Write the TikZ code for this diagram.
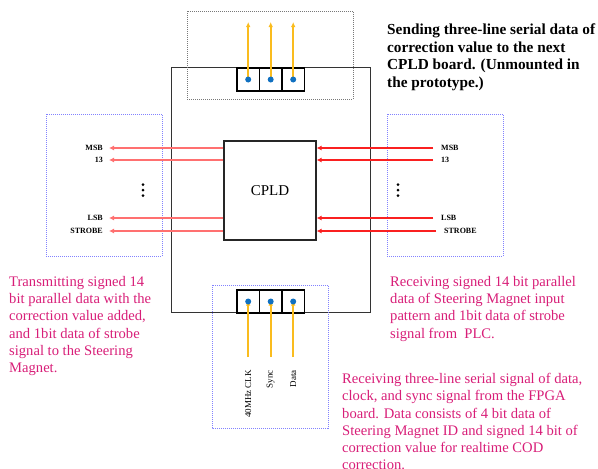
\documentclass[tikz,border=0pt]{standalone}
\usepackage{fontspec}
\setmainfont{Liberation Serif}
\definecolor{notepink}{RGB}{216,30,120}
\definecolor{pinblue}{RGB}{16,112,192}
\definecolor{linegold}{RGB}{250,188,30}
\definecolor{outred}{RGB}{255,112,112}
\definecolor{inred}{RGB}{250,32,32}
\definecolor{framegray}{RGB}{120,120,120}
\definecolor{zoneblue}{RGB}{130,130,255}
\usetikzlibrary{positioning,arrows.meta}

\begin{document}
\begin{tikzpicture}[x=1pt,y=-1pt,
  pinbox/.style={draw,line width=1.4pt,minimum width=22.5pt,minimum height=23pt,inner sep=0pt,outer sep=0pt},
  zone/.style={draw=zoneblue,densely dotted,line width=1pt},
  siglabel/.style={font=\bfseries\fontsize{8}{8}\selectfont,inner sep=0pt},
  pinlabel/.style={rotate=90,anchor=east,inner sep=0pt,font=\fontsize{9}{9}\selectfont},
  note/.style={text=notepink,align=left,anchor=north west,inner sep=0pt,font=\fontsize{14.6}{17.3}\selectfont},
  outsig/.style={outred,line width=1.6pt,-{Latex[length=5pt,width=5pt]}},
  insig/.style={inred,line width=1.6pt,-{Latex[length=5pt,width=5pt]}},
  serial/.style={linegold,line width=1.6pt,-{Latex[length=5pt,width=4.5pt]}}]

  \useasboundingbox (0,0) rectangle (598,469);

  % board and CPLD
  \node[draw=black!80,line width=1pt,minimum width=199pt,minimum height=245pt] (board) at (270.5,189.5) {};
  \node[draw=black!85,line width=1.2pt,minimum width=92pt,minimum height=99pt,font=\fontsize{15}{15}\selectfont] (cpld) at (270,190.5) {CPLD};

  % dotted zones
  \draw[framegray,densely dotted,line width=1pt] (187,11) rectangle (353,99);
  \draw[zone] (46,114) rectangle (162,256);
  \draw[zone] (387,114) rectangle (503,256);
  \draw[zone] (212,285) rectangle (328,428);

  % connectors to the next board
  \node[pinbox] (top1) at (248.2,79.5) {};
  \node[pinbox,right=0pt of top1] (top2) {};
  \node[pinbox,right=0pt of top2] (top3) {};
  \foreach \p in {1,2,3}{
    \coordinate (top\p end) at ([yshift=57.5pt]top\p.center);
    \draw[serial] (top\p.center) -- (top\p end);
    \fill[pinblue] (top\p.center) circle (3pt);
  }

  % connectors from the FPGA
  \node[pinbox] (bot1) at (248.2,301.5) {};
  \node[pinbox,right=0pt of bot1] (bot2) {};
  \node[pinbox,right=0pt of bot2] (bot3) {};
  \node[pinlabel] (clk) at (bot1 |- 0,370) {40MHz CLK};
  \node[pinlabel] (sync) at (bot2 |- 0,370) {Sync};
  \node[pinlabel] (data) at (bot3 |- 0,370) {Data};
  \foreach \p in {1,2,3}{
    \coordinate (bot\p start) at ([yshift=-55.5pt]bot\p.center);
    \draw[serial,shorten >=-1pt] (bot\p start) -- (bot\p.center);
    \fill[pinblue] (bot\p.center) circle (3pt);
  }

  % parallel output to the steering magnet
  \node[siglabel,anchor=east] (lmsb) at (103,148) {MSB};
  \node[siglabel,anchor=east] (l13) at (103,160) {13};
  \node[siglabel,anchor=east] (llsb) at (103,218) {LSB};
  \node[siglabel,anchor=east] (lstb) at (103,231) {STROBE};
  \foreach \l in {lmsb,l13,llsb,lstb}
    \draw[outsig] (cpld.west |- \l) -- ([xshift=6pt]\l.east);
  \foreach \k in {0,1,2}
    \fill (143,184.5+5.5*\k) circle (1.5pt);

  % parallel input from the PLC
  \node[siglabel,anchor=west] (rmsb) at (441,148) {MSB};
  \node[siglabel,anchor=west] (r13) at (441,160) {13};
  \node[siglabel,anchor=west] (rlsb) at (441,218) {LSB};
  \node[siglabel,anchor=west] (rstb) at (444,231) {STROBE};
  \foreach \l in {rmsb,r13,rlsb,rstb}
    \draw[insig] ([xshift=-8pt]\l.west |- \l) -- (cpld.east |- \l);
  \foreach \k in {0,1,2}
    \fill (398,184.5+5.5*\k) circle (1.5pt);

  % notes
  \node[align=left,anchor=north west,inner sep=0pt,font=\bfseries\fontsize{15.3}{17.5}\selectfont] (sendnote) at (387,24)
    {Sending three-line serial data of\\correction value to the next\\CPLD board. (Unmounted in\\the prototype.)};
  \node[note] (txnote) at (9,276)
    {Transmitting signed 14\\bit parallel data with the\\correction value added,\\and 1bit data of strobe\\signal to the Steering\\Magnet.};
  \node[note] (rxnote) at (390,276)
    {Receiving signed 14 bit parallel\\data of Steering Magnet input\\pattern and 1bit data of strobe\\signal from\ \ PLC.};
  \node[note] (fpganote) at (342,373)
    {Receiving three-line serial signal of data,\\clock, and sync signal from the FPGA\\board. Data consists of 4 bit data of\\Steering Magnet ID and signed 14 bit of\\correction value for realtime COD\\correction.};

\end{tikzpicture}
\end{document}
